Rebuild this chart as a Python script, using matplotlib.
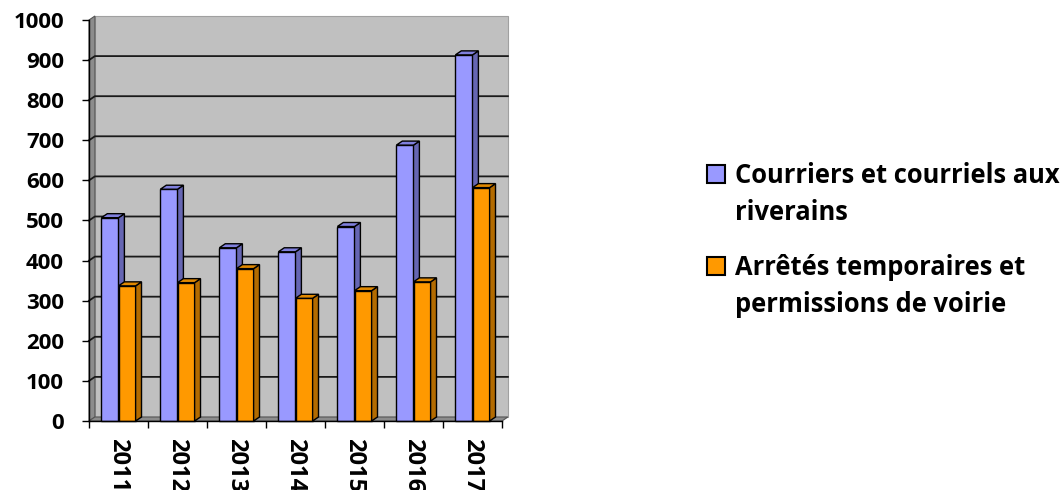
import numpy as np
import matplotlib.pyplot as plt
from matplotlib.patches import Polygon, Rectangle

years = ['2011', '2012', '2013', '2014', '2015', '2016', '2017']
courriers = [507, 578, 432, 422, 485, 688, 913]
arretes = [337, 345, 380, 306, 325, 347, 582]
series_labels = ['Courriers et courriels aux\nriverains',
                 'Arrêtés temporaires et\npermissions de voirie']

# front, top, side colours
blue = ('#9999FF', '#8080DD', '#6666B3')
orange = ('#FF9900', '#E08800', '#B36B00')

plt.rcParams['font.family'] = ['Open Sans', 'DejaVu Sans']
plt.rcParams['font.weight'] = 'bold'

W, H = 1063, 490
fig = plt.figure(figsize=(W / 100, H / 100), dpi=100)
ax = fig.add_axes([89 / W, 1 - 421 / H, 413 / W, 401 / H])
n = len(years)
x0, x1 = -0.5, n - 0.5
ax.set_xlim(x0, x1)
ax.set_ylim(0, 1000)

dx, dy = 0.1, 10  # depth of the 3d effect, in data units


def poly(pts, fc, z, ec='black', lw=1.0):
    p = Polygon(pts, closed=True, facecolor=fc, edgecolor=ec, linewidth=lw,
                zorder=z, clip_on=False, joinstyle='miter')
    ax.add_patch(p)


# walls and floor
poly([(x0 + dx, dy), (x1 + dx, dy), (x1 + dx, 1000 + dy), (x0 + dx, 1000 + dy)],
     '#C0C0C0', 0.5, ec='#A0A0A0', lw=0.8)
poly([(x0, 0), (x0 + dx, dy), (x0 + dx, 1000 + dy), (x0, 1000)], '#8C8C8C', 0.6, ec='#555555', lw=0.8)
poly([(x0, 0), (x1, 0), (x1 + dx, dy), (x0 + dx, dy)], '#8C8C8C', 0.6, ec='#555555', lw=0.8)

for v in range(100, 1000, 100):
    ax.plot([x0, x0 + dx, x1 + dx], [v, v + dy, v + dy], color='#1A1A1A', lw=1.3,
            zorder=0.7, clip_on=False)

# bars
w = 0.29
for j, (vals, cols) in enumerate([(courriers, blue), (arretes, orange)]):
    pos = np.arange(n) - w / 2 + j * w
    bars = ax.bar(pos, vals, w, color=cols[0], edgecolor='black', linewidth=1.0,
                  zorder=3 + j, clip_on=False)
    for b in bars:
        l, r, t = b.get_x(), b.get_x() + b.get_width(), b.get_height()
        poly([(r, 0), (r + dx, dy), (r + dx, t + dy), (r, t)], cols[2], 3 + j)
        poly([(l, t), (r, t), (r + dx, t + dy), (l + dx, t + dy)], cols[1], 3 + j)

for s in ['top', 'right']:
    ax.spines[s].set_visible(False)
for s in ['left', 'bottom']:
    ax.spines[s].set_linewidth(1.0)
    ax.spines[s].set_zorder(5)

ax.set_yticks(range(0, 1001, 100))
ax.tick_params(axis='y', length=5, width=1, pad=13, labelsize=16)
ax.set_xticks(range(n))
ax.set_xticklabels(years, rotation=-90)
ax.set_xticks(np.arange(x0, x1 + 0.01, 1), minor=True)
ax.tick_params(axis='x', which='major', length=0, pad=12, labelsize=17)
ax.tick_params(axis='x', which='minor', length=5, width=1)

# legend
sq = 18
baselines = [183, 275]
for k, (lab, cols) in enumerate(zip(series_labels, [blue, orange])):
    cy = baselines[k] - 9
    fig.patches.append(Rectangle((707 / W, 1 - (cy + sq / 2) / H), sq / W, sq / H,
                                 transform=fig.transFigure, facecolor=cols[0],
                                 edgecolor='black', linewidth=1.5))
    for m, line in enumerate(lab.split('\n')):
        fig.text(735 / W, 1 - (baselines[k] + 37 * m) / H, line, va='baseline',
                 ha='left', fontsize=18.4, fontweight='bold')

fig.savefig('out.png', dpi=100)
